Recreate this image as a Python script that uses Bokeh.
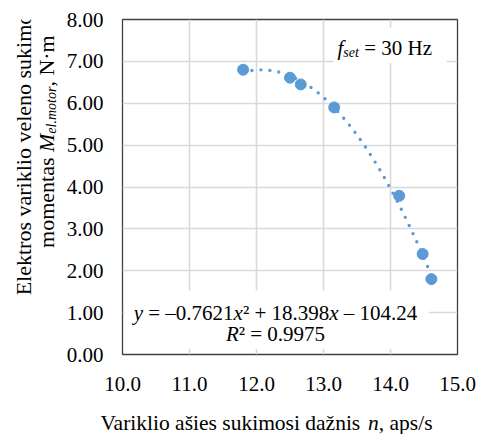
import math
import numpy as np
from bokeh.plotting import figure
from bokeh.layouts import column, row
from bokeh.models import Label, BoxAnnotation, FixedTicker, NumeralTickFormatter, Range1d
from bokeh.embed import file_html
from bokeh.resources import INLINE

# ---------------- data ----------------
speed = [11.80, 12.50, 12.66, 13.16, 14.13, 14.48, 14.61]     # n, aps/s
torque = [6.80, 6.61, 6.45, 5.90, 3.79, 2.40, 1.80]           # M el.motor, N*m
trend_coef = [-0.7621, 18.398, -104.24]                        # quadratic trend
r_squared = 0.9975
f_set_hz = 30
x_ticks = [10, 11, 12, 13, 14, 15]
y_ticks = [0, 1, 2, 3, 4, 5, 6, 7, 8]

BLUE = "#5B9BD5"
FONT = "Liberation Serif"
FS = 21      # tick labels / annotations
FT_Y = 22    # y title
FT_X = 21.5  # x title
SUB = 14

W, H = 478, 434
YW = 60          # width of the strip holding the rotated y title
XH = 30          # height of the strip holding the x title
FL, FT, FR, FB = 122, 19, 457, 354   # plot frame in page pixels

# ---------------- main chart ----------------
p = figure(width=W - YW, height=H - XH, output_backend="svg", toolbar_location=None,
           x_range=Range1d(10, 15), y_range=Range1d(0, 8))
p.min_border = 0
p.min_border_left = FL - YW
p.min_border_right = W - FR
p.min_border_top = FT
p.min_border_bottom = (H - XH) - FB
p.background_fill_color = "white"
p.border_fill_color = "white"
p.outline_line_color = "#404040"
p.outline_line_width = 1.3

for ax, tk, fmt, so in ((p.xaxis[0], x_ticks, "0.0", 22), (p.yaxis[0], y_ticks, "0.00", 19)):
    ax.ticker = FixedTicker(ticks=tk)
    ax.formatter = NumeralTickFormatter(format=fmt)
    ax.axis_line_color = None
    ax.major_tick_line_color = None
    ax.minor_tick_line_color = None
    ax.major_tick_in = 0
    ax.major_tick_out = 0
    ax.major_label_standoff = so
    ax.major_label_text_font = FONT
    ax.major_label_text_font_size = f"{FS}px"
    ax.major_label_text_color = "black"

p.xgrid.ticker = FixedTicker(ticks=x_ticks)
p.ygrid.ticker = FixedTicker(ticks=y_ticks)
p.grid.grid_line_color = "#D9D9D9"
p.grid.grid_line_width = 1.6

# white boxes behind the text annotations
p.add_layout(BoxAnnotation(left=10.03, right=14.57, bottom=0.14, top=1.53,
                           fill_color="white", fill_alpha=1.0, line_color=None, level="underlay"))
p.add_layout(BoxAnnotation(left=13.15, right=14.84, bottom=6.96, top=7.81,
                           fill_color="white", fill_alpha=1.0, line_color=None, level="underlay"))

# trend line (from the fitted coefficients) and data points
a, b, c = trend_coef
xs = np.linspace(min(speed), max(speed), 200)
ys = a * xs ** 2 + b * xs + c
p.line(xs, ys, line_color=BLUE, line_width=3.4, line_dash="0 9", line_cap="round")
p.scatter(speed, torque, size=11, fill_color=BLUE, line_color=BLUE)

# ---------------- title strips ----------------
yfig = figure(width=YW, height=H - XH, output_backend="svg", toolbar_location=None,
              x_range=Range1d(0, 1), y_range=Range1d(0, 1),
              x_axis_type=None, y_axis_type=None, title=None)
xfig = figure(width=W, height=XH, output_backend="svg", toolbar_location=None,
              x_range=Range1d(0, 1), y_range=Range1d(0, 1),
              x_axis_type=None, y_axis_type=None, title=None)
for f in (yfig, xfig):
    f.min_border = 0
    f.outline_line_color = None
    f.background_fill_color = "white"
    f.border_fill_color = "white"

# ---------------- rich text helpers (Times / Liberation Serif metrics) ----------------
REG = {' ': 250, ',': 250, '.': 250, '/': 278, '=': 564, '+': 564, '–': 500, '²': 300, '·': 250,
       'V': 722, 'E': 611, 'N': 722, 'H': 722, 'R': 667,
       'a': 444, 'b': 500, 'c': 444, 'd': 500, 'e': 444, 'f': 333, 'g': 500, 'h': 500, 'i': 278,
       'j': 278, 'k': 500, 'l': 278, 'm': 778, 'n': 500, 'o': 500, 'p': 500, 'r': 333, 's': 389,
       't': 278, 'u': 500, 'v': 500, 'x': 500, 'y': 500, 'z': 444, 'š': 389, 'ž': 444}
ITA = {'a': 500, 'e': 444, 'f': 278, 'l': 278, 'm': 722, 'n': 500, 'o': 500, 'r': 389, 's': 389,
       't': 278, 'x': 444, 'y': 444, 'M': 833, 'R': 611, '.': 250}


def tw(s, size, italic):
    table = ITA if italic else REG
    return sum(table.get(ch, 500) for ch in s) * size / 1000.0


def make_label(fig, text, sx, sy, size, italic, angle=0.0):
    fig.add_layout(Label(x=sx, y=sy, x_units="screen", y_units="screen", text=text,
                         text_font=FONT, text_font_size=f"{size}px",
                         text_font_style="italic" if italic else "normal",
                         text_color="black", text_align="left", text_baseline="alphabetic",
                         angle=angle, angle_units="rad"))


def runs_h(fig, runs, px, py, left, bottom, align="center"):
    """Horizontal runs; px/py in page pixels, (left, bottom) = page position of fig frame corner."""
    total = sum(tw(t, s, i) for t, s, i, d in runs)
    x = px - total / 2 if align == "center" else px
    for t, s, i, d in runs:
        lead = len(t) - len(t.lstrip(" "))
        make_label(fig, t.strip(" "), x + tw(" " * lead, s, i) - left, bottom - py - d, s, i)
        x += tw(t, s, i)


def runs_v(fig, runs, px, py_center, left, bottom):
    """Rotated (bottom-to-top) runs; page pixels."""
    total = sum(tw(t, s, i) for t, s, i, d in runs)
    y = (bottom - py_center) - total / 2
    for t, s, i, d in runs:
        lead = len(t) - len(t.lstrip(" "))
        make_label(fig, t.strip(" "), px + d - left, y + tw(" " * lead, s, i), s, i,
                   angle=math.pi / 2)
        y += tw(t, s, i)


# y-axis title (two lines, rotated)
runs_v(yfig, [("Elektros variklio veleno sukimo", FT_Y, False, 0)], 23, 204, 0, H - XH)
runs_v(yfig, [("momentas ", FT_Y, False, 0), ("M", FT_Y, True, 0), ("el.motor", SUB, True, 5),
              (", N·m", FT_Y, False, 0)], 46, 192, 0, H - XH)

# x-axis title
runs_h(xfig, [("Variklio ašies sukimosi dažnis ", FT_X, False, 0), ("n", FT_X, True, 0),
              (", aps/s", FT_X, False, 0)], 266, 422, 0, H)

# trend equation (inside the plot frame)
runs_h(p, [("y", FS, True, 0), (f" = –{abs(a):.4f}", FS, False, 0), ("x", FS, True, 0),
           (f"² + {b:.3f}", FS, False, 0), ("x", FS, True, 0), (f" – {abs(c):.2f}", FS, False, 0)],
       275, 312, FL, FB)
runs_h(p, [("R", FS, True, 0), (f"² = {r_squared:.4f}", FS, False, 0)], 275, 333, FL, FB)

# set frequency label
runs_h(p, [("f", FS, True, 0), ("set", SUB, True, 5), (f" = {f_set_hz} Hz", FS, False, 0)],
       337, 47, FL, FB, align="left")

layout = column(row(yfig, p, spacing=0), xfig, spacing=0)
open("out.html", "w").write(file_html(layout, INLINE))
